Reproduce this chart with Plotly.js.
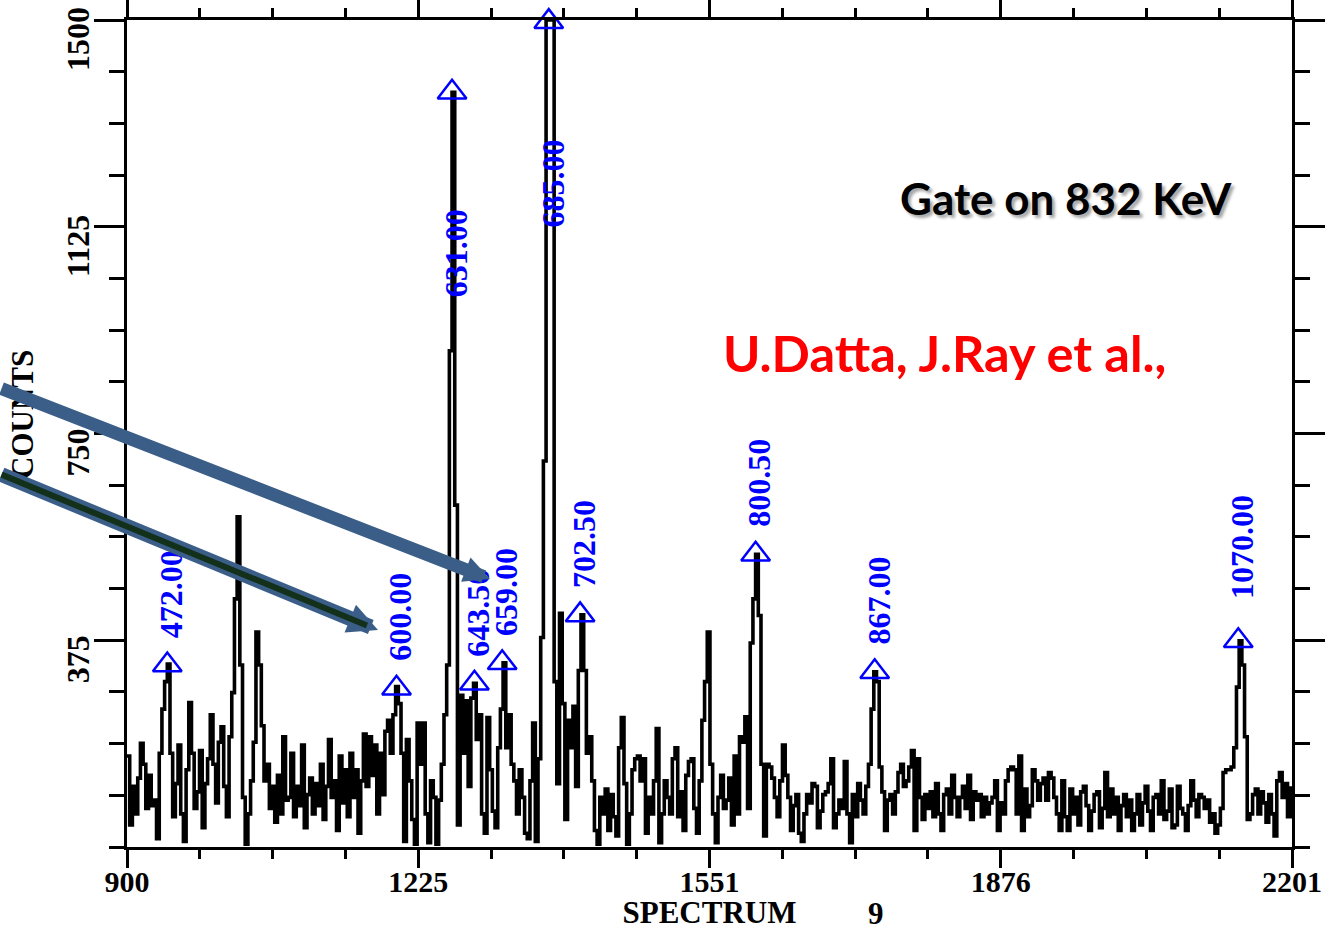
<!DOCTYPE html>
<html>
<head>
<meta charset="utf-8">
<script src="https://cdn.plot.ly/plotly-3.0.1.min.js"></script>
<style>html,body{margin:0;padding:0;background:#fff;}#chart{width:1326px;height:930px;}</style>
</head>
<body>
<div id="chart"></div>
<script>
// ---- data ----
const startChannel = 900;
const channelStep = 3;
const counts = [
 165, 40, 110, 60, 125, 188, 150, 70, 130, 75,
 85, 15, 170, 250, 300, 332, 170, 55, 115, 185,
 60, 10, 140, 262, 170, 70, 100, 175, 35, 115,
 160, 240, 150, 80, 190, 218, 110, 55, 200, 280,
 450, 599, 330, 90, 5, 60, 120, 190, 390, 330,
 220, 120, 150, 70, 110, 45, 130, 60, 200, 85,
 90, 170, 55, 110, 75, 185, 35, 95, 125, 60,
 115, 75, 150, 50, 110, 195, 90, 120, 30, 165,
 80, 140, 55, 170, 90, 140, 25, 120, 205, 110,
 200, 130, 185, 60, 170, 95, 210, 230, 170, 240,
 291, 260, 170, 10, 195, 120, 50, 5, 225, 150,
 225, 60, 8, 120, 90, 5, 85, 150, 240, 330,
 900, 1369, 620, 40, 275, 170, 265, 110, 270, 297,
 195, 240, 60, 25, 235, 140, 65, 35, 180, 250,
 334, 180, 240, 150, 120, 60, 140, 90, 25, 15,
 120, 225, 10, 160, 380, 700, 1500, 1500, 1500, 300,
 115, 424, 260, 50, 230, 180, 255, 110, 320, 421,
 320, 170, 200, 120, 30, 5, 90, 60, 105, 30,
 95, 55, 20, 180, 235, 115, 5, 60, 140, 160,
 165, 120, 160, 25, 90, 60, 120, 215, 8, 60,
 120, 90, 60, 160, 180, 55, 100, 30, 130, 155,
 160, 70, 25, 120, 230, 300, 390, 150, 60, 8,
 90, 130, 70, 85, 125, 40, 165, 60, 200, 190,
 236, 70, 370, 450, 531, 420, 150, 20, 150, 145,
 125, 90, 55, 120, 185, 130, 90, 30, 75, 95,
 25, 10, 60, 95, 80, 115, 110, 35, 65, 95,
 100, 115, 160, 35, 60, 85, 70, 155, 60, 8,
 95, 55, 115, 85, 60, 110, 150, 250, 318, 300,
 145, 100, 30, 85, 95, 60, 100, 135, 150, 110,
 120, 145, 175, 30, 160, 90, 50, 95, 70, 100,
 55, 115, 60, 30, 95, 105, 60, 130, 90, 55,
 90, 110, 70, 130, 50, 100, 85, 95, 55, 90,
 60, 80, 90, 120, 30, 80, 60, 120, 140, 145,
 140, 60, 165, 30, 105, 55, 75, 140, 120, 85,
 115, 125, 85, 135, 125, 90, 60, 30, 120, 55,
 30, 105, 60, 90, 40, 100, 110, 75, 30, 65,
 95, 100, 35, 70, 135, 55, 105, 60, 90, 30,
 75, 95, 55, 85, 30, 60, 95, 40, 80, 110,
 65, 30, 90, 95, 60, 120, 50, 65, 105, 35,
 40, 110, 70, 60, 30, 75, 120, 85, 55, 95,
 90, 70, 85, 45, 60, 25, 40, 70, 135, 140,
 140, 145, 180, 290, 374, 330, 200, 50, 60, 95,
 105, 60, 100, 80, 45, 95, 60, 20, 120, 135,
 90, 115, 55, 110
];
const peakLabels   = ['472.00','600.00','631.00','643.50','659.00','685.00','702.50','800.50','867.00','1070.00'];
const peakChannels = [945, 1201, 1263, 1288, 1319, 1371, 1406, 1602, 1735, 2141];
const peakCounts   = [330, 288, 1369, 297, 334, 1497, 421, 531, 318, 374];
const xTickVals = [900, 1225.25, 1550.5, 1875.75, 2201];
const xTickText = ['900', '1225', '1551', '1876', '2201'];
const yTickVals = [375, 750, 1125, 1500];
const yTickText = ['375', '750', '1125', '1500'];
const xTitle = 'SPECTRUM';
const spectrumNo = '9';
const yTitle = 'COUNTS';
const gateText = 'Gate on 832 KeV';
const authorText = 'U.Datta, J.Ray et al.,';

// ---- styling ----
const channels = counts.map((_, i) => startChannel + i * channelStep);
const serif = 'Liberation Serif, Times New Roman, serif';
const labelShift = {'631.00': -207, '685.00': -208, '1070.00': 40};

const traces = [
  {
    x: channels, y: counts, type: 'scatter', mode: 'lines',
    line: {color: '#000000', width: 3.6, shape: 'hv'}, hoverinfo: 'skip'
  },
  {
    x: peakChannels, y: peakCounts, type: 'scatter', mode: 'markers',
    marker: {symbol: 'triangle-up-open', size: 25, color: '#0000ff', line: {width: 2.5, color: '#0000ff'}},
    cliponaxis: false, hoverinfo: 'skip'
  }
];

const annotations = [];
peakLabels.forEach((t, i) => {
  annotations.push({
    x: peakChannels[i], y: peakCounts[i], xref: 'x', yref: 'y',
    text: t, showarrow: false, textangle: -90,
    xanchor: 'center', yanchor: 'bottom',
    xshift: 4, yshift: (labelShift[t] !== undefined ? labelShift[t] : 25),
    font: {family: serif, size: 32, color: '#0000ff', weight: 'bold'}
  });
});
// spectrum number next to the x title
annotations.push({
  xref: 'paper', yref: 'paper', x: (875.5 - 127) / 1165, y: (847 - 914) / 827,
  text: spectrumNo, showarrow: false, xanchor: 'center', yanchor: 'middle',
  font: {family: serif, size: 31, color: '#000', weight: 'bold'}
});
// y title
annotations.push({
  xref: 'paper', yref: 'paper', x: (23 - 127) / 1165, y: (847 - 415) / 827,
  text: yTitle, showarrow: false, textangle: -90, xanchor: 'center', yanchor: 'middle',
  font: {family: serif, size: 31, color: '#000', weight: 'bold'}
});
// text boxes
annotations.push({
  xref: 'paper', yref: 'paper', x: (1066 - 127) / 1165, y: (847 - 198) / 827,
  text: gateText, showarrow: false, xanchor: 'center', yanchor: 'middle',
  font: {family: 'Lato, Carlito, sans-serif', size: 44, color: '#000', weight: 'bold', shadow: '3px 3px 3px rgba(0,0,0,0.35)'}
});
annotations.push({
  xref: 'paper', yref: 'paper', x: (944 - 127) / 1165, y: (847 - 352) / 827,
  text: authorText, showarrow: false, xanchor: 'center', yanchor: 'middle',
  font: {family: 'Lato, Carlito, sans-serif', size: 50.5, color: '#ff0000', weight: 'bold'}
});
// pointer arrows
const arrowBlue = '#3b5e89';
annotations.push({
  x: 1305.4, y: 486, xref: 'x', yref: 'y', ax: -495, ay: -191, text: '',
  showarrow: true, arrowhead: 2, arrowsize: 0.4, arrowwidth: 13, arrowcolor: arrowBlue, standoff: 0
});
annotations.push({
  x: 1180.3, y: 393.6, xref: 'x', yref: 'y', ax: -383, ay: -156, text: '',
  showarrow: true, arrowhead: 2, arrowsize: 0.4, arrowwidth: 15, arrowcolor: arrowBlue, standoff: 0
});
annotations.push({
  x: 1180.3, y: 393.6, xref: 'x', yref: 'y', ax: -383, ay: -156, text: '',
  showarrow: true, arrowhead: 0, arrowwidth: 6, arrowcolor: '#12301a', standoff: 12
});

const layout = {
  width: 1326, height: 930,
  margin: {l: 127, r: 34, t: 20, b: 83},
  paper_bgcolor: '#ffffff', plot_bgcolor: '#ffffff',
  showlegend: false,
  xaxis: {
    range: [900, 2201], tickmode: 'array', tickvals: xTickVals, ticktext: xTickText,
    ticks: 'outside', ticklen: 18, tickwidth: 3, tickcolor: '#000',
    ticklabelstandoff: -12,
    showline: true, linewidth: 3, linecolor: '#000', mirror: 'ticks',
    showgrid: false, zeroline: false,
    tickfont: {family: serif, size: 30, color: '#000', weight: 'bold'},
    minor: {ticks: 'outside', tick0: 900, dtick: 81.3125, ticklen: 9, tickwidth: 3, tickcolor: '#000', showgrid: false},
    title: {text: xTitle, font: {family: serif, size: 31, color: '#000', weight: 'bold'}, standoff: 6}
  },
  yaxis: {
    range: [0, 1500], tickmode: 'array', tickvals: yTickVals, ticktext: yTickText,
    tickangle: -90, ticklabelposition: 'outside bottom', ticklabelstandoff: 22,
    ticks: 'outside', ticklen: 30, tickwidth: 3, tickcolor: '#000',
    showline: true, linewidth: 3, linecolor: '#000', mirror: 'ticks',
    showgrid: false, zeroline: false,
    tickfont: {family: serif, size: 32, color: '#000', weight: 'bold'},
    minor: {ticks: 'outside', tick0: 0, dtick: 93.75, ticklen: 15, tickwidth: 3, tickcolor: '#000', showgrid: false}
  },
  annotations: annotations
};

Plotly.newPlot('chart', traces, layout, {staticPlot: true, displayModeBar: false});
</script>
</body>
</html>
